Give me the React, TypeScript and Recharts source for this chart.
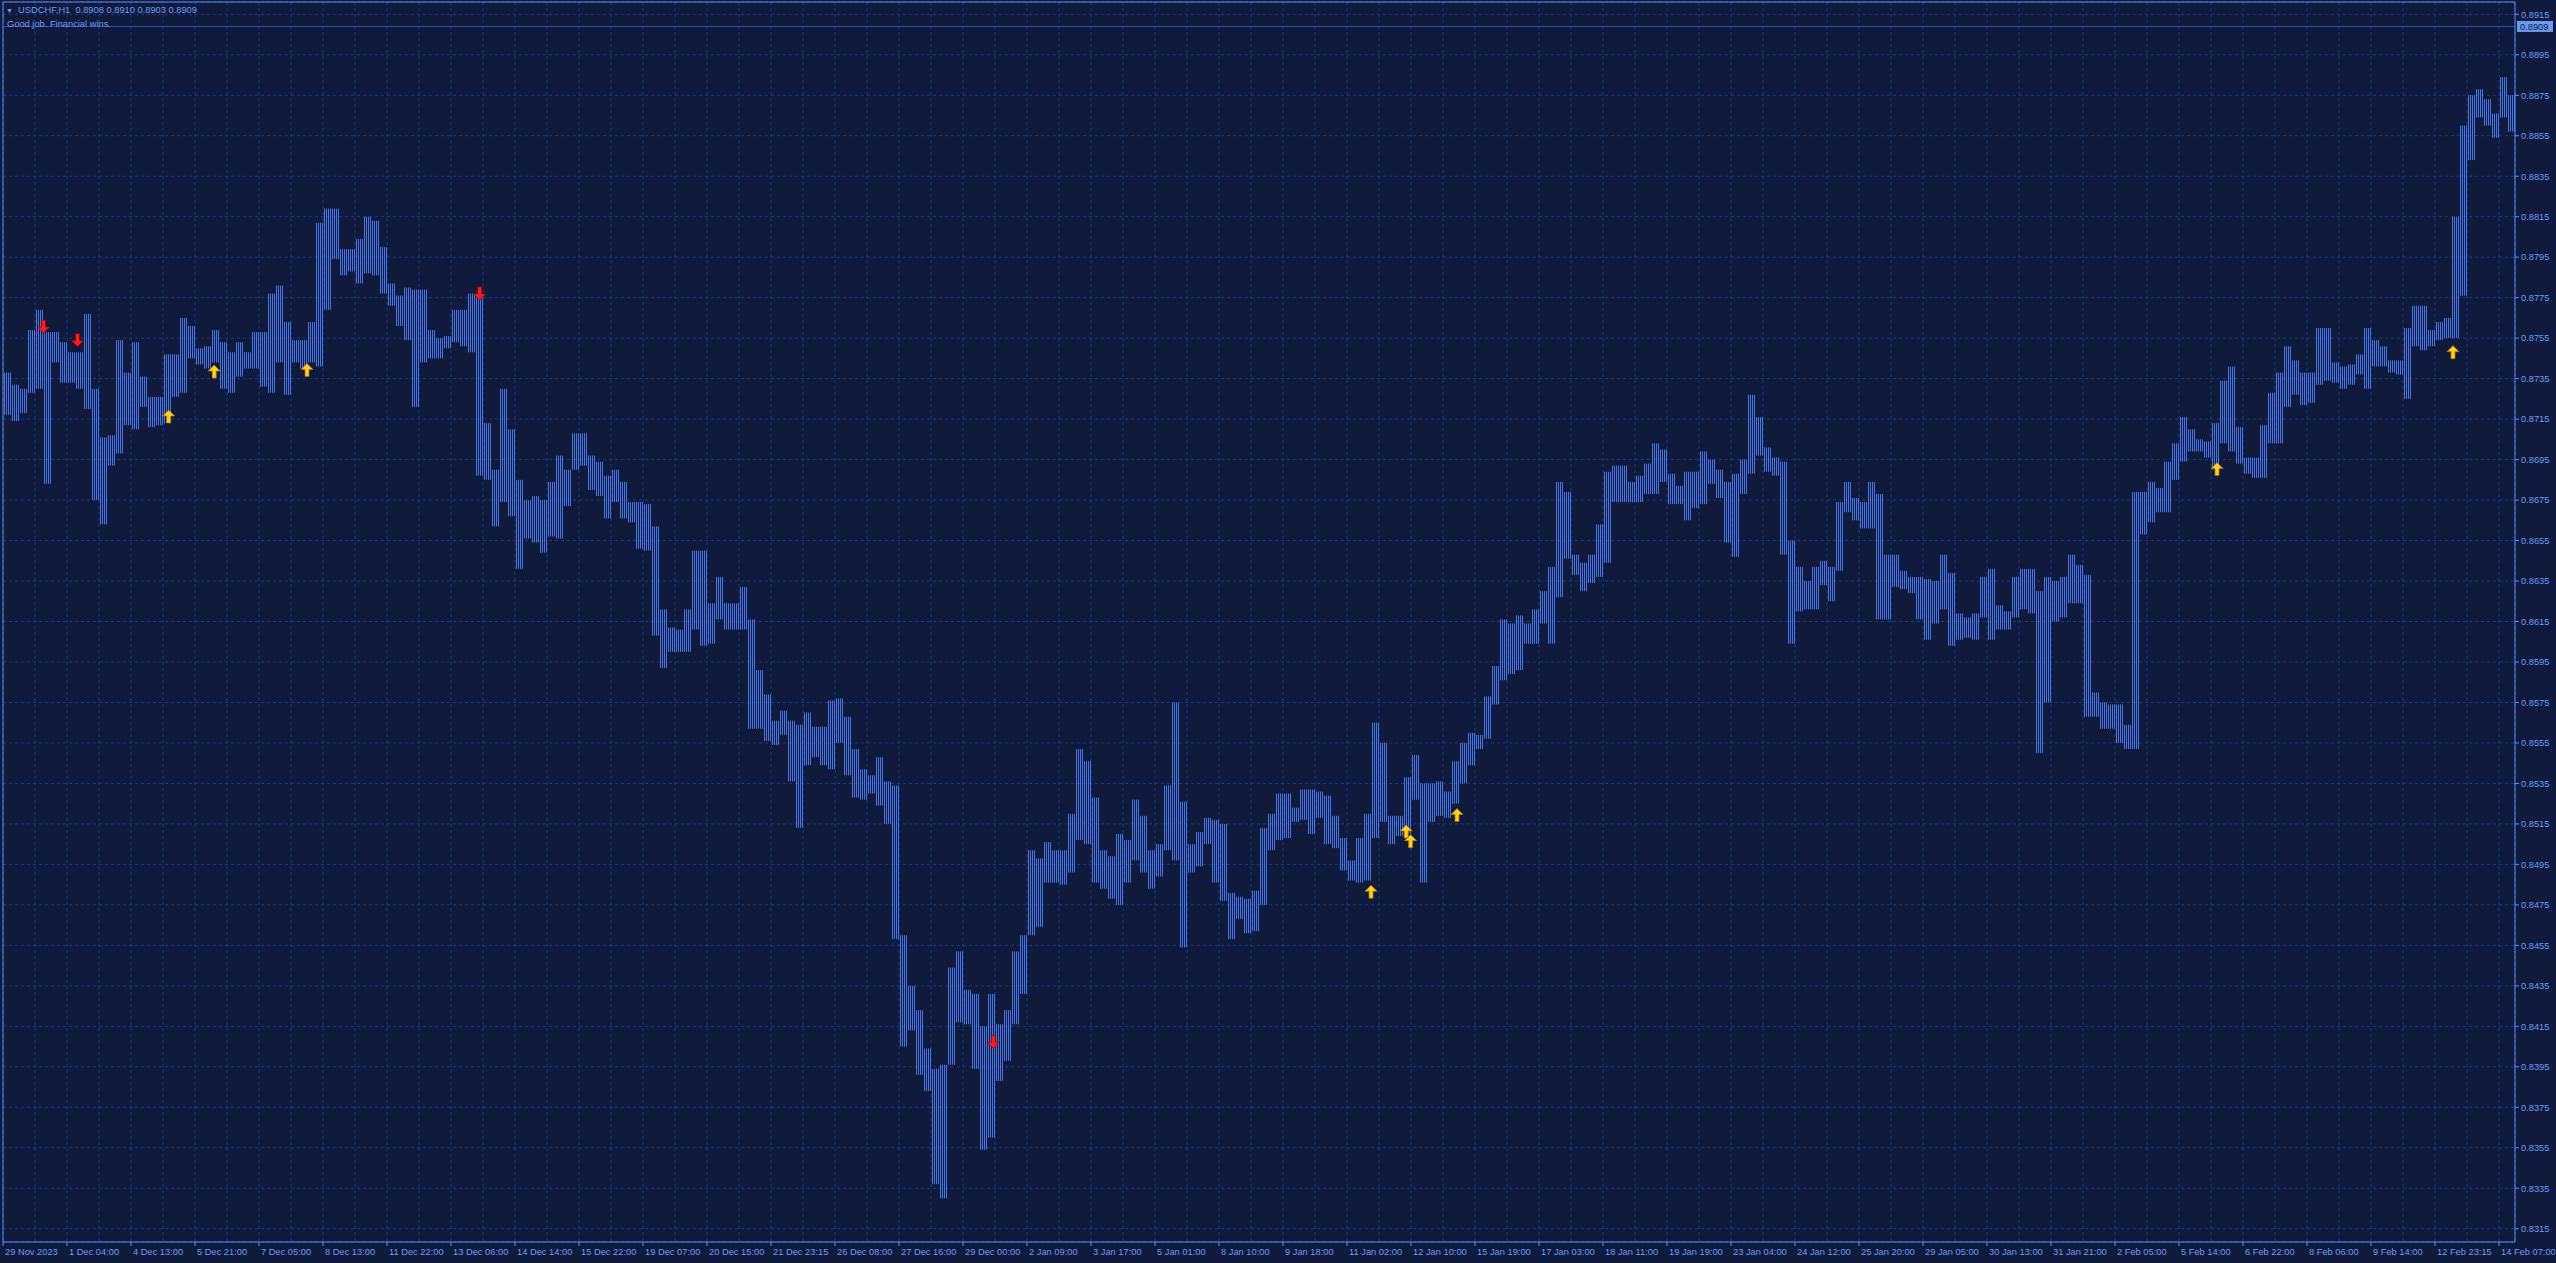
import React from 'react';
import {
  ComposedChart,
  Bar,
  Scatter,
  XAxis,
  YAxis,
  CartesianGrid,
  ReferenceLine,
} from 'recharts';

const WIDTH = 2556;
const HEIGHT = 1263;
const FONT = '"Liberation Sans", Arial, sans-serif';
const FONT_SIZE = 9.3;

const COLORS = {
  bg: '#0f1a3c',
  grid: '#1d3a80',
  bar: '#4677e8',
  frame: '#5b8df0',
  text: '#6c9cf5',
  bid: '#2d4f9e',
  bidBox: '#6a9af0',
  up: '#ffd21a',
  upEdge: '#a87400',
  down: '#ff1a1a',
  downEdge: '#9a0000',
};

// USDCHF H1, 29 Nov 2023 .. 14 Feb 2024.
// One entry = a block of 4 hourly bars (high / low of the block).
const HIGH = [
  0.8738, 0.8732, 0.873, 0.8759, 0.8769, 0.8758, 0.8758, 0.8753, 0.8748, 0.8748, 0.8767, 0.873, 0.8706, 0.8707, 0.8754, 0.8738, 0.8753, 0.8736, 0.8726, 0.8726,
  0.8747, 0.8747, 0.8765, 0.8761, 0.875, 0.8751, 0.8759, 0.8753, 0.8748, 0.8753, 0.8748, 0.8758, 0.8758, 0.8777, 0.8781, 0.8763, 0.8754, 0.8754, 0.8763, 0.8812,
  0.8819, 0.8819, 0.8799, 0.8799, 0.8804, 0.8815, 0.8813, 0.88, 0.8782, 0.8776, 0.878, 0.8779, 0.8779, 0.8759, 0.8755, 0.8756, 0.8769, 0.8769, 0.8777, 0.8776,
  0.8713, 0.869, 0.873, 0.871, 0.8685, 0.8675, 0.8677, 0.8675, 0.8684, 0.8697, 0.869, 0.8708, 0.8708, 0.8697, 0.8694, 0.8687, 0.869, 0.8684, 0.8674, 0.8674,
  0.8673, 0.8662, 0.8621, 0.8612, 0.8611, 0.8621, 0.865, 0.865, 0.8624, 0.8637, 0.8624, 0.8624, 0.8632, 0.8616, 0.8591, 0.8579, 0.8566, 0.8571, 0.8566, 0.8564,
  0.857, 0.8563, 0.8563, 0.8576, 0.8577, 0.8568, 0.8552, 0.8542, 0.8539, 0.8548, 0.8536, 0.8534, 0.846, 0.8435, 0.8423, 0.8404, 0.8394, 0.8396, 0.8444, 0.8452,
  0.8433, 0.8431, 0.8415, 0.8431, 0.8416, 0.8423, 0.8452, 0.846, 0.8502, 0.8498, 0.8506, 0.8502, 0.8502, 0.852, 0.8552, 0.8546, 0.8528, 0.8502, 0.8499, 0.851,
  0.8507, 0.8527, 0.8519, 0.8502, 0.8505, 0.8534, 0.8575, 0.8526, 0.8505, 0.8511, 0.8518, 0.8517, 0.8515, 0.8481, 0.8479, 0.8478, 0.8482, 0.8513, 0.852, 0.853,
  0.853, 0.8523, 0.8532, 0.8532, 0.8531, 0.8529, 0.8519, 0.8508, 0.8497, 0.8508, 0.852, 0.8565, 0.8555, 0.8519, 0.8519, 0.8538, 0.8549, 0.8535, 0.8535, 0.8536,
  0.8531, 0.8546, 0.8555, 0.856, 0.8559, 0.8578, 0.8593, 0.8616, 0.8614, 0.8618, 0.8614, 0.8621, 0.863, 0.8642, 0.8684, 0.8679, 0.8648, 0.8644, 0.8648, 0.8663,
  0.8689, 0.8692, 0.8692, 0.8684, 0.8687, 0.8693, 0.8703, 0.87, 0.8688, 0.8682, 0.8689, 0.8689, 0.8699, 0.8695, 0.869, 0.8684, 0.8688, 0.8695, 0.8727, 0.8716,
  0.8701, 0.8696, 0.8694, 0.8655, 0.8642, 0.8635, 0.8642, 0.8645, 0.8642, 0.8674, 0.8684, 0.8676, 0.8674, 0.8684, 0.8678, 0.8648, 0.8648, 0.864, 0.8637, 0.8637,
  0.8636, 0.8635, 0.8648, 0.8639, 0.8619, 0.8617, 0.8619, 0.8637, 0.8641, 0.8623, 0.862, 0.8637, 0.8641, 0.8641, 0.863, 0.8637, 0.8635, 0.8637, 0.8648, 0.8643,
  0.8638, 0.858, 0.8575, 0.8574, 0.8574, 0.8564, 0.8679, 0.8679, 0.8684, 0.8681, 0.8694, 0.8703, 0.8716, 0.871, 0.8705, 0.8704, 0.8713, 0.8734, 0.8741, 0.8711,
  0.8696, 0.8696, 0.8712, 0.8728, 0.8738, 0.8751, 0.8744, 0.8738, 0.8738, 0.876, 0.876, 0.8743, 0.8741, 0.8742, 0.8747, 0.876, 0.8754, 0.8751, 0.8744, 0.8744,
  0.876, 0.8771, 0.8771, 0.8759, 0.8763, 0.8765, 0.8815, 0.886, 0.8875, 0.8878, 0.8873, 0.8866, 0.8884, 0.8875,
];

const LOW = [
  0.8717, 0.8714, 0.8718, 0.8728, 0.873, 0.8683, 0.8743, 0.8733, 0.8733, 0.873, 0.872, 0.8675, 0.8663, 0.8692, 0.8698, 0.8712, 0.871, 0.8721, 0.8711, 0.8712,
  0.8713, 0.8726, 0.8728, 0.8745, 0.8742, 0.874, 0.8743, 0.873, 0.8728, 0.8736, 0.874, 0.874, 0.8731, 0.8728, 0.8743, 0.8727, 0.8743, 0.874, 0.8743, 0.8741,
  0.8769, 0.8794, 0.8786, 0.8788, 0.8782, 0.8787, 0.8786, 0.8777, 0.8771, 0.8761, 0.8754, 0.8721, 0.8743, 0.8745, 0.8745, 0.875, 0.8753, 0.8751, 0.8748, 0.8687,
  0.8685, 0.8662, 0.8674, 0.8667, 0.8641, 0.8656, 0.8654, 0.8649, 0.8657, 0.8656, 0.8672, 0.869, 0.8692, 0.868, 0.8677, 0.8666, 0.8674, 0.8666, 0.8664, 0.8651,
  0.865, 0.8608, 0.8592, 0.86, 0.86, 0.86, 0.8611, 0.8603, 0.8604, 0.8616, 0.8611, 0.8611, 0.8611, 0.8562, 0.8562, 0.8556, 0.8554, 0.8559, 0.8536, 0.8513,
  0.8544, 0.8548, 0.8544, 0.8542, 0.8555, 0.8539, 0.8528, 0.8527, 0.853, 0.8524, 0.8515, 0.8458, 0.8405, 0.8413, 0.8391, 0.8383, 0.8337, 0.833, 0.8396, 0.8417,
  0.8416, 0.8394, 0.8354, 0.836, 0.8388, 0.8398, 0.8416, 0.8431, 0.846, 0.8464, 0.8486, 0.8486, 0.8485, 0.8491, 0.8507, 0.8505, 0.8486, 0.8483, 0.8478, 0.8475,
  0.8486, 0.8497, 0.8491, 0.8483, 0.8489, 0.8502, 0.8497, 0.8454, 0.8491, 0.8494, 0.8505, 0.8486, 0.8477, 0.8458, 0.8468, 0.8461, 0.8462, 0.8475, 0.8502, 0.8507,
  0.8508, 0.8516, 0.8517, 0.851, 0.8518, 0.8505, 0.8503, 0.8492, 0.8487, 0.8486, 0.8487, 0.8508, 0.8516, 0.8505, 0.8509, 0.851, 0.8527, 0.8486, 0.8516, 0.8519,
  0.8518, 0.8525, 0.8535, 0.8544, 0.8552, 0.8557, 0.8574, 0.8586, 0.8589, 0.8591, 0.8604, 0.8604, 0.8614, 0.8604, 0.8627, 0.8646, 0.8638, 0.863, 0.8634, 0.8637,
  0.8644, 0.8674, 0.8674, 0.8674, 0.8674, 0.8678, 0.8678, 0.8684, 0.8673, 0.8673, 0.8665, 0.8671, 0.8673, 0.8683, 0.8676, 0.8654, 0.8647, 0.8678, 0.8688, 0.8697,
  0.8689, 0.8687, 0.8648, 0.8604, 0.862, 0.8621, 0.8621, 0.8633, 0.8625, 0.864, 0.8669, 0.8665, 0.8661, 0.8661, 0.8616, 0.8616, 0.8632, 0.8631, 0.8629, 0.8616,
  0.8606, 0.8614, 0.8621, 0.8603, 0.8606, 0.8607, 0.8606, 0.8617, 0.8606, 0.8611, 0.8611, 0.8617, 0.8621, 0.8619, 0.855, 0.8575, 0.8615, 0.8617, 0.8624, 0.8624,
  0.8568, 0.8568, 0.8562, 0.8562, 0.8555, 0.8552, 0.8552, 0.8658, 0.8664, 0.8669, 0.8669, 0.8685, 0.8694, 0.8699, 0.8699, 0.8696, 0.869, 0.8703, 0.8699, 0.8693,
  0.8688, 0.8686, 0.8686, 0.8703, 0.8703, 0.8721, 0.8727, 0.8722, 0.8723, 0.8732, 0.8734, 0.8733, 0.873, 0.8732, 0.8737, 0.873, 0.8741, 0.8741, 0.8738, 0.8737,
  0.8725, 0.8751, 0.8749, 0.8751, 0.8754, 0.8755, 0.8755, 0.8776, 0.8843, 0.8864, 0.886, 0.8854, 0.8864, 0.8857,
];

// time scale labels, one every 32 hourly bars (= 8 blocks)
const TIME_LABELS = [
  '29 Nov 2023', '1 Dec 04:00', '4 Dec 13:00', '5 Dec 21:00', '7 Dec 05:00', '8 Dec 13:00', '11 Dec 22:00', '13 Dec 06:00',
  '14 Dec 14:00', '15 Dec 22:00', '19 Dec 07:00', '20 Dec 15:00', '21 Dec 23:15', '26 Dec 08:00', '27 Dec 16:00', '29 Dec 00:00',
  '2 Jan 09:00', '3 Jan 17:00', '5 Jan 01:00', '8 Jan 10:00', '9 Jan 18:00', '11 Jan 02:00', '12 Jan 10:00', '15 Jan 19:00',
  '17 Jan 03:00', '18 Jan 11:00', '19 Jan 19:00', '23 Jan 04:00', '24 Jan 12:00', '25 Jan 20:00', '29 Jan 05:00', '30 Jan 13:00',
  '31 Jan 21:00', '2 Feb 05:00', '5 Feb 14:00', '6 Feb 22:00', '8 Feb 06:00', '9 Feb 14:00', '12 Feb 23:15', '14 Feb 07:00',
];

const PRICE_TICKS = [
  0.8315, 0.8335, 0.8355, 0.8375, 0.8395, 0.8415, 0.8435, 0.8455, 0.8475, 0.8495, 0.8515,
  0.8535, 0.8555, 0.8575, 0.8595, 0.8615, 0.8635, 0.8655, 0.8675, 0.8695, 0.8715,
  0.8735, 0.8755, 0.8775, 0.8795, 0.8815, 0.8835, 0.8855, 0.8875, 0.8895, 0.8915,
];

// signal arrows: block position and price of the arrow tip
const DOWN_ARROWS = [
  { g: 4.56, p: 0.87575 },
  { g: 8.81, p: 0.87508 },
  { g: 59.09, p: 0.87739 },
  { g: 123.3, p: 0.84041 },
];
const UP_ARROWS = [
  { g: 20.21, p: 0.87195 },
  { g: 25.9, p: 0.87417 },
  { g: 37.5, p: 0.87425 },
  { g: 170.5, p: 0.84847 },
  { g: 174.9, p: 0.85145 },
  { g: 175.45, p: 0.85097 },
  { g: 181.25, p: 0.85226 },
  { g: 276.25, p: 0.86935 },
  { g: 305.75, p: 0.87513 },
];

const SYMBOL = 'USDCHF,H1';
const OHLC = ['0.8908', '0.8910', '0.8903', '0.8909'];
const BID = 0.8909;
const COMMENT = 'Good job. Financial wins.';

const BLOCKS_PER_GRID = 4;
const BLOCK_PX = 8; // 4 hourly bars at 2px each
const Y_DOMAIN = [0.830843, 0.892108];
const X_DOMAIN = [-0.5, HIGH.length - 0.5];

const blocks = HIGH.map((h, i) => ({ g: i, range: [LOW[i], h] }));
const gridTicks = Array.from({ length: TIME_LABELS.length * 2 - 1 }, (_, k) => k * BLOCKS_PER_GRID - 0.5);

const StripedBlock = (props: any) => {
  const { x, y, width, height } = props;
  if (x == null || y == null || height == null) return null;
  const top = height < 0 ? y + height : y;
  const left = Math.round(x + width / 2 - BLOCK_PX / 2);
  return <rect x={left} y={top} width={BLOCK_PX} height={Math.max(Math.abs(height), 1)} fill="url(#hl-stripes)" />;
};

const DownArrow = (props: any) => {
  const { cx, cy } = props;
  if (cx == null || cy == null) return null;
  const d = `M${cx - 2},${cy - 13} L${cx + 2},${cy - 13} L${cx + 2},${cy - 6} L${cx + 6},${cy - 6} L${cx},${cy} L${cx - 6},${cy - 6} L${cx - 2},${cy - 6} Z`;
  return <path d={d} fill={COLORS.down} stroke={COLORS.downEdge} strokeWidth={0.8} />;
};

const UpArrow = (props: any) => {
  const { cx, cy } = props;
  if (cx == null || cy == null) return null;
  const d = `M${cx},${cy} L${cx + 6},${cy + 6} L${cx + 2},${cy + 6} L${cx + 2},${cy + 13} L${cx - 2},${cy + 13} L${cx - 2},${cy + 6} L${cx - 6},${cy + 6} Z`;
  return <path d={d} fill={COLORS.up} stroke={COLORS.upEdge} strokeWidth={0.8} />;
};

const TimeTick = (props: any) => {
  const { x, y, payload } = props;
  const k = Math.round((payload.value + 0.5) / BLOCKS_PER_GRID);
  if (k % 2 !== 0) return null;
  const label = TIME_LABELS[k / 2];
  return (
    <g>
      <line x1={x} y1={y} x2={x} y2={y + 4} stroke={COLORS.frame} />
      <text x={x + 2} y={y + 13} fill={COLORS.text} fontSize={FONT_SIZE} fontFamily={FONT}>
        {label}
      </text>
    </g>
  );
};

const BidLabel = (props: any) => {
  const { viewBox } = props;
  if (!viewBox) return null;
  const x = viewBox.x + viewBox.width + 2;
  const y = viewBox.y;
  return (
    <g>
      <rect x={x} y={y - 5.5} width={36} height={11} fill={COLORS.bidBox} />
      <text x={x + 3} y={y + 3.4} fill={COLORS.bg} fontSize={FONT_SIZE} fontFamily={FONT}>
        {BID.toFixed(4)}
      </text>
    </g>
  );
};

export default function App() {
  return (
    <div style={{ position: 'relative', width: WIDTH, height: HEIGHT, background: COLORS.bg, fontFamily: FONT }}>
      <style>{`body { margin: 0; background: ${COLORS.bg}; }`}</style>
      <svg width={0} height={0} style={{ position: 'absolute' }}>
        <defs>
          <pattern id="hl-stripes" patternUnits="userSpaceOnUse" width={2} height={8}>
            <rect x={0} y={0} width={1} height={8} fill={COLORS.bar} />
          </pattern>
        </defs>
      </svg>

      <ComposedChart width={WIDTH} height={HEIGHT} data={blocks} margin={{ top: 2, right: 0, bottom: 0, left: 3 }}>
        <CartesianGrid stroke={COLORS.grid} strokeDasharray="3 3" />
        <XAxis
          type="number"
          dataKey="g"
          domain={X_DOMAIN}
          allowDataOverflow
          ticks={gridTicks}
          interval={0}
          height={21}
          tickSize={0}
          tickMargin={0}
          tickLine={false}
          axisLine={{ stroke: COLORS.frame }}
          tick={<TimeTick />}
        />
        <YAxis
          orientation="right"
          dataKey="p"
          type="number"
          domain={Y_DOMAIN}
          allowDataOverflow
          ticks={PRICE_TICKS}
          interval={0}
          width={41}
          tickSize={4}
          tickMargin={2}
          axisLine={{ stroke: COLORS.frame }}
          tickLine={{ stroke: COLORS.frame }}
          tickFormatter={(v: number) => v.toFixed(4)}
          tick={{ fill: COLORS.text, fontSize: FONT_SIZE, fontFamily: FONT, textAnchor: 'start' }}
        />
        <ReferenceLine x={X_DOMAIN[0]} stroke={COLORS.frame} />
        <ReferenceLine y={Y_DOMAIN[1]} stroke={COLORS.frame} />
        <ReferenceLine y={BID} stroke={COLORS.bid} label={<BidLabel />} />
        <Bar dataKey="range" barSize={BLOCK_PX} isAnimationActive={false} shape={<StripedBlock />} />
        <Scatter data={DOWN_ARROWS} dataKey="p" isAnimationActive={false} shape={<DownArrow />} />
        <Scatter data={UP_ARROWS} dataKey="p" isAnimationActive={false} shape={<UpArrow />} />
      </ComposedChart>

      <div style={{ position: 'absolute', left: 6, top: 4, color: COLORS.text, fontSize: FONT_SIZE, lineHeight: '13px', whiteSpace: 'pre' }}>
        <span style={{ fontSize: 7 }}>▼</span>
        {`  ${SYMBOL}  ${OHLC.join(' ')}`}
      </div>
      <div style={{ position: 'absolute', left: 7, top: 18, color: COLORS.text, fontSize: FONT_SIZE, lineHeight: '13px', whiteSpace: 'pre' }}>
        {COMMENT}
      </div>
    </div>
  );
}
